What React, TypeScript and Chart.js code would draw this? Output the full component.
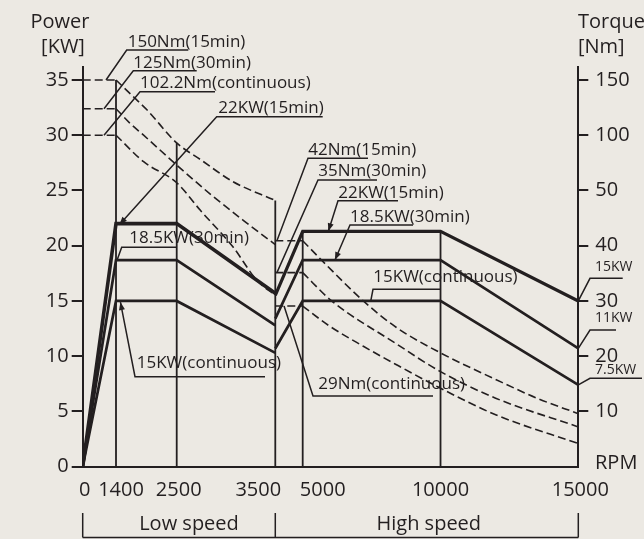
import React, { useEffect, useRef } from 'react';
import { Chart, LinearScale, registerables } from 'chart.js';

// ---------------- data ----------------
const xTickRpm = [0, 1400, 2500, 3500, 5000, 10000, 15000];
const xTickLabels = ['0', '1400', '2500', '3500', '5000', '10000', '15000'];
const powerTicks = [0, 5, 10, 15, 20, 25, 30, 35];
const torqueTickAt = [35, 30, 25, 20, 15, 10, 5];
const torqueTickLabels = ['150', '100', '50', '40', '30', '20', '10'];

// power curves (kW)
const lowRpm = [0, 1400, 2500, 3500];
const low22 = [0, 22, 22, 15.7];
const low18 = [0, 18.7, 18.7, 12.8];
const low15 = [0, 15, 15, 10.3];
const highRpm = [3500, 5000, 10000, 15000];
const high22 = [15.5, 21.3, 21.3, 15.0];
const high18 = [13.4, 18.7, 18.7, 10.7];
const high15 = [10.7, 15, 15, 7.4];

// torque curves, at the height they are drawn on the chart
const lowFlatRpm = [0, 1400];
const t150Level = [35, 35];
const t125Level = [32.4, 32.4];
const t102Level = [30.0, 30.0];
const t150Rpm = [1400, 1710, 1960, 2500, 2740, 3070, 3500];
const t150 = [35, 33.5, 32.3, 29.3, 27.8, 25.8, 24.1];
const t125Rpm = [1400, 1650, 1900, 2500, 2850, 3175, 3500];
const t125 = [32.4, 31.1, 30.0, 27.3, 24.6, 22.3, 20.1];
const t102Rpm = [1400, 1900, 2500, 2740, 3070, 3310, 3500];
const t102 = [30.0, 27.6, 25.7, 23.2, 19.9, 16.9, 15.5];

const highFlatRpm = [3500, 5000];
const t42Level = [20.45, 20.45];
const t35Level = [17.56, 17.56];
const t29Level = [14.54, 14.54];
const t42Rpm = [5000, 5800, 7200, 8400, 10000, 12000, 13500, 15000];
const t42 = [20.45, 18.4, 15.0, 12.6, 10.3, 7.9, 6.2, 4.8];
const t35Rpm = [5000, 6050, 8350, 10000, 12000, 15000];
const t35 = [17.56, 15.0, 11.2, 8.6, 6.2, 3.6];
const t29Rpm = [5000, 5930, 7200, 8350, 10000, 12000, 15000];
const t29 = [14.54, 12.8, 10.9, 9.3, 7.1, 4.7, 2.1];

// vertical guide lines
const vLineRpm = [1400, 2500, 3500, 5000, 10000];
const vLineTop = [35, 29.3, 24.1, 21.3, 21.3];

// ---------------- layout / style ----------------
const BG = '#ece9e3';
const INK = '#231f20';
const FONT = '"Open Sans", "Noto Sans", sans-serif';
// piecewise horizontal axis: fraction of plot width at each rpm knot
const rpmKnots = [0, 1400, 2500, 3500, 5000, 10000, 15000];
const knotFrac = [0, 0.0672, 0.1897, 0.3886, 0.4439, 0.722, 1];
const xLabelNudge = [2, 5, 2, -17, 20, 0, 2];

type Note = {
  text: string; x: number; y: number; size: number;
  ul: [number, number, number]; to: [number, number]; arrow?: boolean;
};
const notes: Note[] = [
  { text: '150Nm(15min)', x: 127.7, y: 41.7, size: 17, ul: [126.7, 188.3, 50], to: [980, 35] },
  { text: '125Nm(30min)', x: 133.3, y: 62.7, size: 17, ul: [133.3, 196.7, 70.7], to: [895, 32.4] },
  { text: '102.2Nm(continuous)', x: 140, y: 83.3, size: 17, ul: [140, 215, 91.7], to: [895, 30.0] },
  { text: '22KW(15min)', x: 218.3, y: 108.3, size: 17, ul: [216.7, 322.7, 116.7], to: [1460, 21.9], arrow: true },
  { text: '18.5KW(30min)', x: 129.3, y: 238.3, size: 17, ul: [121.7, 176.7, 247.3], to: [1420, 18.7] },
  { text: '15KW(continuous)', x: 136.7, y: 363.3, size: 17, ul: [135, 265, 376.7], to: [1480, 14.9], arrow: true },
  { text: '42Nm(15min)', x: 308.3, y: 150, size: 17, ul: [308, 368, 158.3], to: [3590, 20.45] },
  { text: '35Nm(30min)', x: 318.3, y: 171, size: 17, ul: [318, 377, 180], to: [3590, 17.56] },
  { text: '22KW(15min)', x: 338.3, y: 193.3, size: 17, ul: [338, 398, 200.7], to: [5930, 21.3], arrow: true },
  { text: '18.5KW(30min)', x: 350, y: 216.7, size: 17, ul: [350, 413, 225], to: [6170, 18.7], arrow: true },
  { text: '15KW(continuous)', x: 373.3, y: 276.7, size: 17, ul: [373, 440.7, 289.3], to: [7470, 15.0] },
  { text: '29Nm(continuous)', x: 318.3, y: 384, size: 17, ul: [313, 433, 396], to: [3980, 14.54] },
  { text: '15KW', x: 595, y: 266.7, size: 14, ul: [590, 622.7, 278.3], to: [15000, 15.0] },
  { text: '11KW', x: 595, y: 318, size: 14, ul: [590, 616, 330], to: [15000, 10.7] },
  { text: '7.5KW', x: 595, y: 370, size: 14, ul: [590, 642, 378.3], to: [15000, 7.4] },
];

function rpmToFrac(v: number): number {
  for (let i = 1; i < rpmKnots.length; i++) {
    if (v <= rpmKnots[i] || i === rpmKnots.length - 1) {
      const t = (v - rpmKnots[i - 1]) / (rpmKnots[i] - rpmKnots[i - 1]);
      return knotFrac[i - 1] + t * (knotFrac[i] - knotFrac[i - 1]);
    }
  }
  return 0;
}
function fracToRpm(f: number): number {
  for (let i = 1; i < knotFrac.length; i++) {
    if (f <= knotFrac[i] || i === knotFrac.length - 1) {
      const t = (f - knotFrac[i - 1]) / (knotFrac[i] - knotFrac[i - 1]);
      return rpmKnots[i - 1] + t * (rpmKnots[i] - rpmKnots[i - 1]);
    }
  }
  return 0;
}

class PiecewiseScale extends LinearScale {
  static id = 'piecewise';
  static defaults = (LinearScale as any).defaults;
  getPixelForValue(value: number) {
    return this.left + rpmToFrac(value) * this.width;
  }
  getValueForPixel(pixel: number) {
    return fracToRpm((pixel - this.left) / this.width);
  }
}

Chart.register(...registerables, PiecewiseScale as any);

function series(rpm: number[], kw: number[], extra: any) {
  return {
    data: rpm.map((r, i) => ({ x: r, y: kw[i] })),
    borderColor: INK,
    pointRadius: 0,
    fill: false,
    borderCapStyle: 'butt',
    borderJoinStyle: 'miter',
    tension: 0,
    ...extra,
  };
}
const solid = (w: number) => ({ borderWidth: w });
const dashedStraight = { borderWidth: 1.6, borderDash: [8, 4] };
const dashedCurve = { borderWidth: 1.6, borderDash: [8, 4], cubicInterpolationMode: 'monotone' };

const decorPlugin = {
  id: 'decor',
  beforeDraw(chart: any) {
    const ctx = chart.ctx;
    ctx.save();
    ctx.fillStyle = BG;
    ctx.fillRect(0, 0, chart.width, chart.height);
    ctx.restore();
  },
  beforeDatasetsDraw(chart: any) {
    const ctx = chart.ctx;
    const xs = chart.scales.x;
    const ys = chart.scales.y;
    ctx.save();
    ctx.fillStyle = INK;
    ctx.strokeStyle = INK;
    ctx.textBaseline = 'middle';
    ctx.textAlign = 'left';
    for (const n of notes) {
      ctx.font = `${n.size}px ${FONT}`;
      ctx.fillText(n.text, n.x, n.y);
      ctx.lineWidth = 1.5;
      ctx.beginPath();
      ctx.moveTo(n.ul[1], n.ul[2]);
      ctx.lineTo(n.ul[0], n.ul[2]);
      const tx = xs.getPixelForValue(n.to[0]);
      const ty = ys.getPixelForValue(n.to[1]);
      ctx.lineTo(tx, ty);
      ctx.stroke();
      if (n.arrow) {
        const ang = Math.atan2(ty - n.ul[2], tx - n.ul[0]);
        const L = 8, W = 3;
        ctx.beginPath();
        ctx.moveTo(tx, ty);
        ctx.lineTo(tx - L * Math.cos(ang) + W * Math.sin(ang), ty - L * Math.sin(ang) - W * Math.cos(ang));
        ctx.lineTo(tx - L * Math.cos(ang) - W * Math.sin(ang), ty - L * Math.sin(ang) + W * Math.cos(ang));
        ctx.closePath();
        ctx.fill();
      }
    }
    ctx.restore();
  },
  afterDraw(chart: any) {
    const ctx = chart.ctx;
    const xs = chart.scales.x;
    ctx.save();
    ctx.fillStyle = INK;
    ctx.strokeStyle = INK;
    ctx.font = `20px ${FONT}`;
    ctx.textBaseline = 'middle';
    // axis titles
    ctx.textAlign = 'center';
    ctx.fillText('Power', 60, 22.7);
    ctx.fillText('[KW]', 63, 47.7);
    ctx.textAlign = 'left';
    ctx.fillText('Torque', 578, 22.7);
    ctx.fillText('[Nm]', 578, 47.7);
    ctx.fillText('RPM', 595, 463);
    // rpm tick labels
    ctx.textAlign = 'center';
    xTickRpm.forEach((r, i) => {
      ctx.fillText(xTickLabels[i], xs.getPixelForValue(r) + xLabelNudge[i], 490.7);
    });
    // speed range bracket
    const p0 = xs.getPixelForValue(0);
    const p1 = xs.getPixelForValue(3500);
    const p2 = xs.getPixelForValue(15000);
    ctx.lineWidth = 1.5;
    ctx.beginPath();
    [p0, p1, p2].forEach((p) => {
      ctx.moveTo(p, 513);
      ctx.lineTo(p, 537.5);
    });
    ctx.moveTo(p0, 537.5);
    ctx.lineTo(p2, 537.5);
    ctx.stroke();
    ctx.fillText('Low speed', (p0 + p1) / 2 + 10, 524.3);
    ctx.fillText('High speed', (p1 + p2) / 2 + 2, 524.3);
    ctx.restore();
  },
};

export default function App() {
  const ref = useRef<HTMLCanvasElement>(null);
  useEffect(() => {
    document.body.style.margin = '0';
    const datasets: any[] = [
      series(lowRpm, low22, solid(3.6)),
      series(lowRpm, low18, solid(2.7)),
      series(lowRpm, low15, solid(2.7)),
      series(highRpm, high22, solid(3.2)),
      series(highRpm, high18, solid(2.7)),
      series(highRpm, high15, solid(2.7)),
      series(lowFlatRpm, t150Level, dashedStraight),
      series(lowFlatRpm, t125Level, dashedStraight),
      series(lowFlatRpm, t102Level, dashedStraight),
      series(t150Rpm, t150, dashedCurve),
      series(t125Rpm, t125, dashedCurve),
      series(t102Rpm, t102, dashedCurve),
      series(highFlatRpm, t42Level, dashedStraight),
      series(highFlatRpm, t35Level, dashedStraight),
      series(highFlatRpm, t29Level, dashedStraight),
      series(t42Rpm, t42, dashedCurve),
      series(t35Rpm, t35, dashedCurve),
      series(t29Rpm, t29, dashedCurve),
      ...vLineRpm.map((r, i) => series([r, r], [vLineTop[i], 0], solid(1.8))),
    ];
    const tickFont = { family: FONT, size: 20 };
    const chart = new Chart(ref.current as HTMLCanvasElement, {
      type: 'line',
      data: { datasets },
      plugins: [decorPlugin],
      options: {
        animation: false,
        responsive: false,
        maintainAspectRatio: false,
        devicePixelRatio: 1,
        layout: { padding: { top: 66.7, left: 0, right: 0, bottom: 0 } },
        plugins: { legend: { display: false }, tooltip: { enabled: false } },
        scales: {
          x: {
            type: 'piecewise' as any,
            min: 0,
            max: 15000,
            grid: { display: false, drawTicks: false },
            border: { display: true, color: INK, width: 2 },
            ticks: { display: false },
            afterFit: (s: any) => { s.height = 72.3; },
          },
          y: {
            type: 'linear',
            position: 'left',
            min: 0,
            max: 36.2,
            grid: { display: true, drawOnChartArea: false, drawTicks: true, tickLength: 11, color: INK, lineWidth: 2 },
            border: { display: true, color: INK, width: 2 },
            ticks: { font: tickFont, color: INK, padding: 3, autoSkip: false },
            afterBuildTicks: (s: any) => { s.ticks = powerTicks.map((v) => ({ value: v })); },
            afterFit: (s: any) => { s.width = 82.7; },
          },
          y1: {
            type: 'linear',
            position: 'right',
            min: 0,
            max: 36.2,
            grid: { display: true, drawOnChartArea: false, drawTicks: true, tickLength: 10, color: INK, lineWidth: 2 },
            border: { display: true, color: INK, width: 2 },
            ticks: {
              font: tickFont,
              color: INK,
              padding: 7,
              autoSkip: false,
              callback: (v: any) => torqueTickLabels[torqueTickAt.indexOf(Number(v))] ?? '',
            },
            afterBuildTicks: (s: any) => { s.ticks = torqueTickAt.map((v) => ({ value: v })); },
            afterFit: (s: any) => { s.width = 644 - 578.3; },
          },
        },
      } as any,
    });
    return () => chart.destroy();
  }, []);
  return (
    <div style={{ position: 'fixed', left: 0, top: 0, width: 644, height: 539, background: BG }}>
      <canvas ref={ref} width={644} height={539} style={{ display: 'block', width: 644, height: 539 }} />
    </div>
  );
}
